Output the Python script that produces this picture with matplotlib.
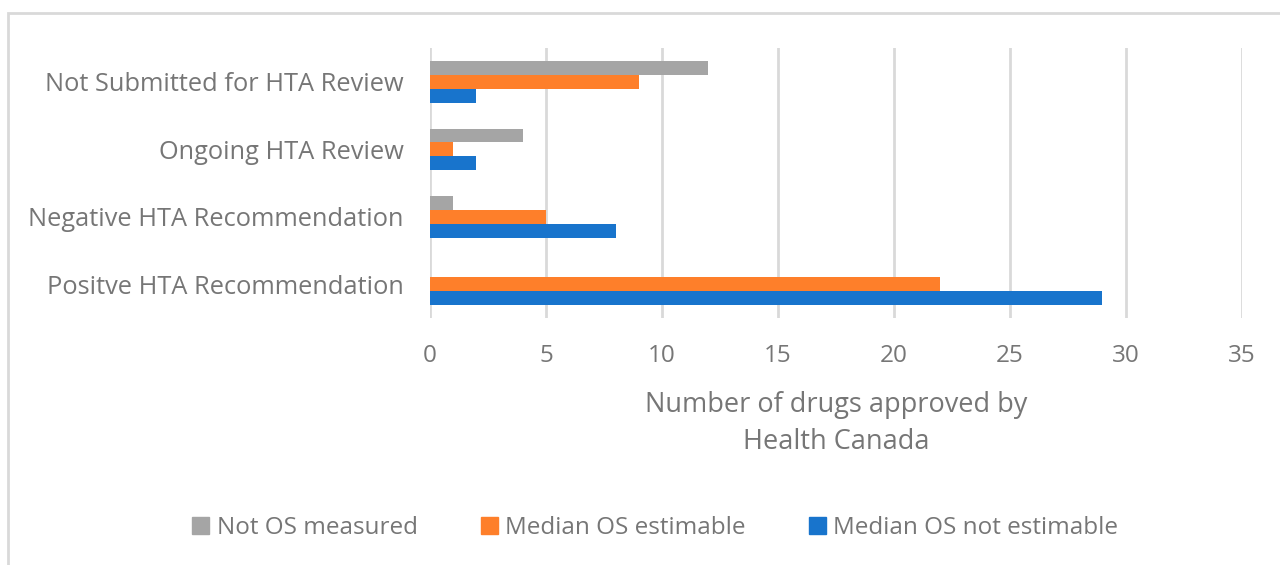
import numpy as np
import matplotlib.pyplot as plt
from matplotlib.patches import Rectangle, Patch

plt.rcParams['font.family'] = ['Open Sans', 'DejaVu Sans']

categories = ['Positve HTA Recommendation', 'Negative HTA Recommendation',
              'Ongoing HTA Review', 'Not Submitted for HTA Review']
not_os = [0, 1, 4, 12]
os_estimable = [22, 5, 1, 9]
os_not_estimable = [29, 8, 2, 2]
series_names = ['Not OS measured', 'Median OS estimable', 'Median OS not estimable']
colors = ['#A5A5A5', '#FE7F2A', '#1874CC']
text_col = '#767676'

fig = plt.figure(figsize=(12.8, 5.65), dpi=100)
ax = fig.add_axes([0.336, 0.437, 0.634, 0.478])

y = np.arange(len(categories))
h = 0.205
ax.barh(y + h, not_os, height=h, color=colors[0], zorder=3)
ax.barh(y, os_estimable, height=h, color=colors[1], zorder=3)
ax.barh(y - h, os_not_estimable, height=h, color=colors[2], zorder=3)

ax.set_xlim(0, 35)
ax.set_ylim(-0.5, 3.5)
ax.set_xticks(range(0, 36, 5))
ax.set_yticks(y)
ax.set_yticklabels(categories, fontsize=18.3)
ax.grid(axis='x', color='#D9D9D9', linewidth=2, zorder=0)
for s in ax.spines.values():
    s.set_visible(False)
ax.tick_params(length=0, colors=text_col)
ax.tick_params(axis='x', labelsize=17.5, pad=19)
ax.tick_params(axis='y', pad=19)
ax.set_xlabel('Number of drugs approved by\nHealth Canada', color=text_col,
              fontsize=19.5, labelpad=16, linespacing=1.45)

handles = [Patch(color=c) for c in colors]
fig.legend(handles, series_names, loc='center', bbox_to_anchor=(0.512, 0.066),
           ncol=3, frameon=False, fontsize=17.5, labelcolor=text_col,
           handlelength=0.7, handleheight=0.7, handletextpad=0.3, columnspacing=2.6)

fig.patches.append(Rectangle((8 / 1280, -0.1), 1.2, 1 - 13 / 565 + 0.1,
                             transform=fig.transFigure, fill=False,
                             edgecolor='#D9D9D9', linewidth=2))

fig.savefig('out.png', dpi=100)
